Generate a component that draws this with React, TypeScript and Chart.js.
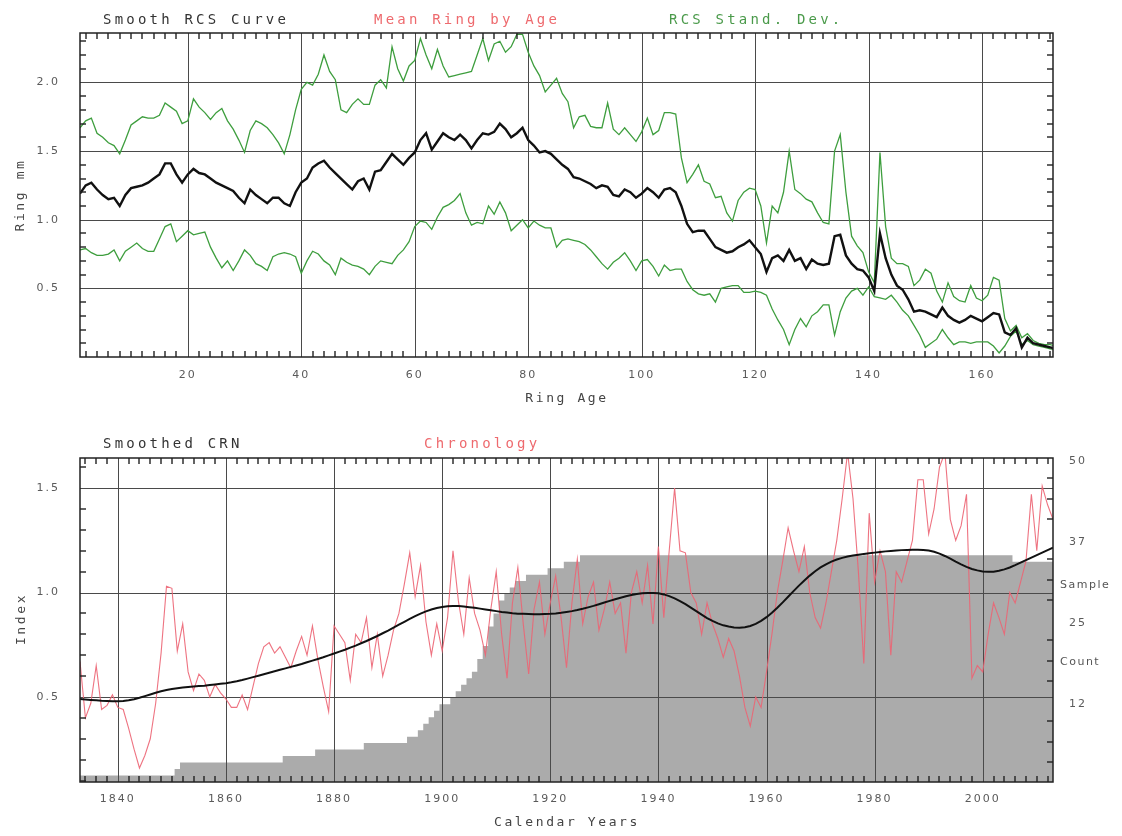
import React, { useEffect, useRef } from "react";
import { Chart, registerables } from "chart.js";

Chart.register(...registerables);

// ---------------- Top chart data (Ring Age 1..173) ----------------
const firstAge = 1;
const topXTicks = [20, 40, 60, 80, 100, 120, 140, 160];
const topYTicks = [0.5, 1.0, 1.5, 2.0];
const topMinorX = [2, 4, 6, 8, 10, 12, 14, 16, 18, 22, 24, 26, 28, 30, 32, 34, 36, 38, 42, 44, 46, 48, 50, 52, 54, 56, 58, 62, 64, 66, 68, 70, 72, 74, 76, 78, 82, 84, 86, 88, 90, 92, 94, 96, 98, 102, 104, 106, 108, 110, 112, 114, 116, 118, 122, 124, 126, 128, 130, 132, 134, 136, 138, 142, 144, 146, 148, 150, 152, 154, 156, 158, 162, 164, 166, 168, 170, 172];
const topMinorY = [0.1, 0.2, 0.3, 0.4, 0.6, 0.7, 0.8, 0.9, 1.1, 1.2, 1.3, 1.4, 1.6, 1.7, 1.8, 1.9, 2.1, 2.2, 2.3];

const meanRing = [
  1.19, 1.25, 1.27, 1.22, 1.18, 1.15, 1.16, 1.10, 1.18, 1.23,
  1.24, 1.25, 1.27, 1.30, 1.33, 1.41, 1.41, 1.33, 1.27, 1.33,
  1.37, 1.34, 1.33, 1.30, 1.27, 1.25, 1.23, 1.21, 1.16, 1.12,
  1.22, 1.18, 1.15, 1.12, 1.16, 1.16, 1.12, 1.10, 1.20, 1.27,
  1.30, 1.38, 1.41, 1.43, 1.38, 1.34, 1.30, 1.26, 1.22, 1.28,
  1.30, 1.22, 1.35, 1.36, 1.42, 1.48, 1.44, 1.40, 1.45, 1.49,
  1.58, 1.63, 1.51, 1.57, 1.63, 1.60, 1.58, 1.62, 1.58, 1.52,
  1.58, 1.63, 1.62, 1.64, 1.70, 1.66, 1.60, 1.63, 1.67, 1.58,
  1.54, 1.49, 1.50, 1.48, 1.44, 1.40, 1.37, 1.31, 1.30, 1.28,
  1.26, 1.23, 1.25, 1.24, 1.18, 1.17, 1.22, 1.20, 1.16, 1.19,
  1.23, 1.20, 1.16, 1.22, 1.23, 1.20, 1.10, 0.97, 0.91, 0.92,
  0.92, 0.86, 0.80, 0.78, 0.76, 0.77, 0.80, 0.82, 0.85, 0.80,
  0.75, 0.62, 0.72, 0.74, 0.70, 0.78, 0.70, 0.72, 0.64, 0.71,
  0.68, 0.67, 0.68, 0.88, 0.89, 0.74, 0.68, 0.64, 0.63, 0.58,
  0.48, 0.90, 0.72, 0.60, 0.52, 0.49, 0.42, 0.33, 0.34, 0.33,
  0.31, 0.29, 0.36, 0.30, 0.27, 0.25, 0.27, 0.30, 0.28, 0.26,
  0.29, 0.32, 0.31, 0.18, 0.16, 0.21, 0.07, 0.14, 0.10, 0.09,
  0.08, 0.07, 0.06,
];

const sdUpper = [
  1.67, 1.72, 1.74, 1.63, 1.60, 1.56, 1.54, 1.48, 1.58, 1.69,
  1.72, 1.75, 1.74, 1.74, 1.76, 1.85, 1.82, 1.79, 1.70, 1.72,
  1.88, 1.82, 1.78, 1.73, 1.78, 1.81, 1.72, 1.66, 1.58, 1.49,
  1.65, 1.72, 1.70, 1.67, 1.62, 1.56, 1.48, 1.62, 1.80, 1.95,
  2.00, 1.98, 2.06, 2.20, 2.08, 2.02, 1.80, 1.78, 1.84, 1.88,
  1.84, 1.84, 1.98, 2.02, 1.96, 2.26, 2.10, 2.01, 2.12, 2.16,
  2.32, 2.20, 2.10, 2.24, 2.12, 2.04, 2.05, 2.06, 2.07, 2.08,
  2.20, 2.32, 2.16, 2.28, 2.30, 2.22, 2.26, 2.35, 2.35, 2.22,
  2.12, 2.05, 1.93, 1.98, 2.03, 1.92, 1.86, 1.67, 1.75, 1.76,
  1.68, 1.67, 1.67, 1.85, 1.66, 1.62, 1.67, 1.62, 1.57, 1.64,
  1.74, 1.62, 1.65, 1.78, 1.78, 1.77, 1.45, 1.27, 1.33, 1.40,
  1.28, 1.26, 1.16, 1.17, 1.05, 0.99, 1.14, 1.20, 1.23, 1.22,
  1.10, 0.83, 1.10, 1.05, 1.20, 1.50, 1.22, 1.19, 1.15, 1.13,
  1.05, 0.98, 0.97, 1.50, 1.62, 1.20, 0.88, 0.81, 0.76, 0.62,
  0.54, 1.49, 0.95, 0.72, 0.68, 0.68, 0.66, 0.52, 0.56, 0.64,
  0.61, 0.48, 0.40, 0.54, 0.44, 0.41, 0.40, 0.52, 0.43, 0.41,
  0.45, 0.58, 0.56, 0.28, 0.19, 0.23, 0.14, 0.17, 0.12, 0.10,
  0.09, 0.09, 0.08,
];

const sdLower = [
  0.78, 0.79, 0.76, 0.74, 0.74, 0.75, 0.78, 0.70, 0.77, 0.80,
  0.83, 0.79, 0.77, 0.77, 0.86, 0.95, 0.97, 0.84, 0.88, 0.92,
  0.89, 0.90, 0.91, 0.80, 0.72, 0.65, 0.70, 0.63, 0.70, 0.78,
  0.74, 0.68, 0.66, 0.63, 0.73, 0.75, 0.76, 0.75, 0.73, 0.61,
  0.70, 0.77, 0.75, 0.70, 0.67, 0.60, 0.72, 0.69, 0.67, 0.66,
  0.64, 0.60, 0.66, 0.70, 0.69, 0.68, 0.74, 0.78, 0.84, 0.95,
  0.99, 0.98, 0.93, 1.02, 1.09, 1.11, 1.14, 1.19, 1.05, 0.96,
  0.98, 0.97, 1.10, 1.04, 1.13, 1.05, 0.92, 0.96, 1.00, 0.94,
  0.99, 0.96, 0.94, 0.94, 0.80, 0.85, 0.86, 0.85, 0.84, 0.82,
  0.78, 0.73, 0.68, 0.64, 0.69, 0.72, 0.76, 0.70, 0.63, 0.70,
  0.71, 0.66, 0.59, 0.67, 0.63, 0.64, 0.64, 0.55, 0.49, 0.46,
  0.45, 0.46, 0.40, 0.50, 0.51, 0.52, 0.52, 0.47, 0.47, 0.48,
  0.47, 0.45, 0.35, 0.27, 0.20, 0.09, 0.20, 0.28, 0.22, 0.30,
  0.33, 0.38, 0.38, 0.16, 0.33, 0.43, 0.48, 0.50, 0.45, 0.51,
  0.44, 0.43, 0.42, 0.45, 0.40, 0.34, 0.30, 0.23, 0.16, 0.07,
  0.10, 0.13, 0.20, 0.14, 0.09, 0.11, 0.11, 0.10, 0.11, 0.11,
  0.11, 0.08, 0.03, 0.08, 0.15, 0.19, 0.09, 0.12, 0.09, 0.08,
  0.07, 0.06, 0.05,
];

// ---------------- Bottom chart data (Calendar years 1833..2013) ----------------
const firstYear = 1833;
const botXTicks = [1840, 1860, 1880, 1900, 1920, 1940, 1960, 1980, 2000];
const botYTicks = [0.5, 1.0, 1.5];
const countTicks = [12.5, 25, 37.5, 50];
const botMinorX = [1834, 1836, 1838, 1842, 1844, 1846, 1848, 1850, 1852, 1854, 1856, 1858, 1862, 1864, 1866, 1868, 1870, 1872, 1874, 1876, 1878, 1882, 1884, 1886, 1888, 1890, 1892, 1894, 1896, 1898, 1902, 1904, 1906, 1908, 1910, 1912, 1914, 1916, 1918, 1922, 1924, 1926, 1928, 1930, 1932, 1934, 1936, 1938, 1942, 1944, 1946, 1948, 1950, 1952, 1954, 1956, 1958, 1962, 1964, 1966, 1968, 1970, 1972, 1974, 1976, 1978, 1982, 1984, 1986, 1988, 1990, 1992, 1994, 1996, 1998, 2002, 2004, 2006, 2008, 2010, 2012];
const botMinorY = [0.1, 0.2, 0.3, 0.4, 0.6, 0.7, 0.8, 0.9, 1.1, 1.2, 1.3, 1.4, 1.6];
const countMinor = [3.125, 6.25, 9.375, 15.625, 18.75, 21.875, 28.125, 31.25, 34.375, 40.625, 43.75, 46.875];

const chronology = [
  0.67, 0.40, 0.47, 0.65, 0.44, 0.46, 0.51, 0.45, 0.44, 0.35,
  0.25, 0.16, 0.22, 0.30, 0.47, 0.71, 1.03, 1.02, 0.72, 0.85,
  0.62, 0.53, 0.61, 0.58, 0.50, 0.56, 0.52, 0.49, 0.45, 0.45,
  0.51, 0.44, 0.55, 0.66, 0.74, 0.76, 0.71, 0.74, 0.69, 0.64,
  0.72, 0.79, 0.70, 0.84, 0.68, 0.55, 0.43, 0.84, 0.80, 0.76,
  0.58, 0.80, 0.76, 0.88, 0.64, 0.80, 0.60, 0.70, 0.82, 0.90,
  1.04, 1.19, 0.98, 1.13, 0.86, 0.70, 0.85, 0.72, 0.88, 1.20,
  0.96, 0.80, 1.07, 0.90, 0.82, 0.70, 0.92, 1.10, 0.80, 0.59,
  0.95, 1.12, 0.85, 0.61, 0.92, 1.05, 0.80, 0.95, 1.08, 0.88,
  0.64, 0.95, 1.16, 0.85, 0.98, 1.05, 0.82, 0.92, 1.05, 0.90,
  0.95, 0.71, 1.00, 1.10, 0.95, 1.13, 0.85, 1.22, 0.88, 1.20,
  1.50, 1.20, 1.19, 1.00, 0.95, 0.80, 0.95, 0.85, 0.78, 0.69,
  0.78, 0.72, 0.60, 0.45, 0.36, 0.50, 0.45, 0.62, 0.80, 1.00,
  1.15, 1.31, 1.20, 1.10, 1.22, 1.00, 0.88, 0.83, 0.95, 1.10,
  1.25, 1.45, 1.67, 1.45, 1.10, 0.66, 1.38, 1.05, 1.20, 1.10,
  0.70, 1.10, 1.05, 1.15, 1.25, 1.54, 1.54, 1.28, 1.40, 1.60,
  1.67, 1.35, 1.25, 1.32, 1.47, 0.59, 0.65, 0.62, 0.80, 0.95,
  0.88, 0.80, 1.00, 0.95, 1.05, 1.15, 1.47, 1.20, 1.51, 1.42,
  1.35,
];

const smoothedCrn = [
  0.490, 0.488, 0.486, 0.484, 0.482, 0.481, 0.480, 0.480, 0.481, 0.484,
  0.489, 0.496, 0.504, 0.512, 0.520, 0.527, 0.533, 0.538, 0.542, 0.545,
  0.548, 0.550, 0.552, 0.554, 0.557, 0.560, 0.563, 0.566, 0.570, 0.575,
  0.581, 0.588, 0.595, 0.602, 0.609, 0.616, 0.623, 0.630, 0.637, 0.644,
  0.651, 0.658, 0.666, 0.674, 0.682, 0.690, 0.699, 0.708, 0.717, 0.726,
  0.736, 0.746, 0.757, 0.768, 0.780, 0.792, 0.805, 0.818, 0.832, 0.846,
  0.860, 0.874, 0.887, 0.899, 0.910, 0.919, 0.926, 0.931, 0.934, 0.935,
  0.935, 0.933, 0.930, 0.927, 0.923, 0.919, 0.915, 0.911, 0.907, 0.904,
  0.901, 0.899, 0.898, 0.897, 0.896, 0.896, 0.897, 0.898, 0.900, 0.903,
  0.907, 0.911, 0.916, 0.922, 0.929, 0.936, 0.944, 0.952, 0.960, 0.968,
  0.975, 0.982, 0.988, 0.993, 0.996, 0.998, 0.998, 0.996, 0.991, 0.983,
  0.972, 0.959, 0.944, 0.928, 0.911, 0.894, 0.878, 0.864, 0.852, 0.843,
  0.837, 0.833, 0.832, 0.834, 0.840, 0.850, 0.864, 0.882, 0.903, 0.927,
  0.953, 0.980, 1.007, 1.033, 1.058, 1.081, 1.102, 1.120, 1.135, 1.148,
  1.158, 1.166, 1.172, 1.177, 1.181, 1.185, 1.188, 1.191, 1.194, 1.197,
  1.199, 1.201, 1.203, 1.204, 1.205, 1.205, 1.204, 1.201, 1.195, 1.186,
  1.175, 1.162, 1.148, 1.135, 1.123, 1.113, 1.106, 1.101, 1.099, 1.100,
  1.104, 1.111, 1.120, 1.131, 1.143, 1.155, 1.167, 1.179, 1.191, 1.203,
  1.215,
];

const sampleCount = [
  1, 1, 1, 1, 1, 1, 1, 1, 1, 1,
  1, 1, 1, 1, 1, 1, 1, 1, 2, 3,
  3, 3, 3, 3, 3, 3, 3, 3, 3, 3,
  3, 3, 3, 3, 3, 3, 3, 3, 4, 4,
  4, 4, 4, 4, 5, 5, 5, 5, 5, 5,
  5, 5, 5, 6, 6, 6, 6, 6, 6, 6,
  6, 7, 7, 8, 9, 10, 11, 12, 12, 13,
  14, 15, 16, 17, 19, 21, 24, 26, 28, 29,
  30, 31, 31, 32, 32, 32, 32, 33, 33, 33,
  34, 34, 34, 35, 35, 35, 35, 35, 35, 35,
  35, 35, 35, 35, 35, 35, 35, 35, 35, 35,
  35, 35, 35, 35, 35, 35, 35, 35, 35, 35,
  35, 35, 35, 35, 35, 35, 35, 35, 35, 35,
  35, 35, 35, 35, 35, 35, 35, 35, 35, 35,
  35, 35, 35, 35, 35, 35, 35, 35, 35, 35,
  35, 35, 35, 35, 35, 35, 35, 35, 35, 35,
  35, 35, 35, 35, 35, 35, 35, 35, 35, 35,
  35, 35, 35, 34, 34, 34, 34, 34, 34, 34,
  34,
];

// ---------------- styling ----------------
const TICK_FONT = { family: "DejaVu Sans", size: 11 };
const TICK_COLOR = "#5a5a5a";
const GRID_COLOR = "#4a4a4a";
const FRAME_COLOR = "#222";

function toPoints(start: number, values: number[]) {
  return values.map((v, i) => ({ x: start + i, y: v }));
}

type FrameCfg = {
  gridBefore: number;
  majorX: number[];
  majorY: number[];
  minorX: number[];
  minorY: number[];
  minorY2?: number[];
};

function makeFramePlugin(cfg: FrameCfg) {
  return {
    id: "frameLines",
    beforeDraw(chart: any) {
      try {
        (chart.ctx as any).letterSpacing = "2px";
      } catch (e) {}
    },
    beforeDatasetDraw(chart: any, args: any) {
      if (args.index !== cfg.gridBefore) return;
      const { ctx, chartArea: a, scales } = chart;
      ctx.save();
      ctx.fillStyle = GRID_COLOR;
      for (const v of cfg.majorX) {
        const px = Math.round(scales.x.getPixelForValue(v));
        ctx.fillRect(px, a.top, 1, a.bottom - a.top);
      }
      for (const v of cfg.majorY) {
        const py = Math.round(scales.y.getPixelForValue(v));
        ctx.fillRect(a.left, py, a.right - a.left, 1);
      }
      ctx.restore();
    },
    afterDraw(chart: any) {
      const ctx: CanvasRenderingContext2D = chart.ctx;
      const a = chart.chartArea;
      const xs = chart.scales.x;
      const ys = chart.scales.y;
      const L = 6;
      const W = 1.4;
      ctx.save();
      ctx.fillStyle = FRAME_COLOR;
      for (const v of cfg.minorX) {
        const px = Math.round(xs.getPixelForValue(v));
        ctx.fillRect(px - W / 2, a.bottom - L, W, L);
        ctx.fillRect(px - W / 2, a.top, W, L);
      }
      for (const v of cfg.minorY) {
        const py = Math.round(ys.getPixelForValue(v));
        ctx.fillRect(a.left, py - W / 2, L, W);
        if (!cfg.minorY2) ctx.fillRect(a.right - L, py - W / 2, L, W);
      }
      if (cfg.minorY2 && chart.scales.y2) {
        const y2 = chart.scales.y2;
        for (const v of cfg.minorY2) {
          const py = Math.round(y2.getPixelForValue(v));
          ctx.fillRect(a.right - L, py - W / 2, L, W);
        }
      }
      ctx.strokeStyle = FRAME_COLOR;
      ctx.lineWidth = 1.5;
      ctx.strokeRect(a.left, a.top, a.right - a.left, a.bottom - a.top);
      ctx.restore();
    },
  };
}

function TopChart() {
  const ref = useRef<HTMLCanvasElement>(null);
  useEffect(() => {
    const chart = new Chart(ref.current as HTMLCanvasElement, {
      type: "line",
      data: {
        datasets: [
          {
            data: toPoints(firstAge, meanRing),
            borderColor: "#111",
            borderWidth: 2.4,
            order: 1,
          },
          {
            data: toPoints(firstAge, sdUpper),
            borderColor: "#3e9e3e",
            borderWidth: 1.3,
            order: 2,
          },
          {
            data: toPoints(firstAge, sdLower),
            borderColor: "#3e9e3e",
            borderWidth: 1.3,
            order: 3,
          },
        ],
      },
      options: {
        responsive: false,
        animation: false,
        parsing: false as any,
        layout: { padding: { left: 0, top: 33, right: 69, bottom: 0 } },
        elements: { point: { radius: 0 }, line: { tension: 0 } },
        plugins: {
          legend: { display: false },
          tooltip: { enabled: false },
        },
        scales: {
          x: {
            type: "linear",
            min: 1,
            max: 172.5,
            grid: { display: false },
            border: { display: false },
            afterBuildTicks: (s: any) => {
              s.ticks = topXTicks.map((v) => ({ value: v }));
            },
            afterFit: (s: any) => {
              s.height = 420 - 357;
            },
            ticks: {
              padding: 4,
              font: TICK_FONT,
              color: TICK_COLOR,
              maxRotation: 0,
              autoSkip: false,
              callback: (v: any) => String(v),
            },
          },
          y: {
            type: "linear",
            position: "left",
            min: 0,
            max: 2.36,
            grid: { display: false },
            border: { display: false },
            afterBuildTicks: (s: any) => {
              s.ticks = topYTicks.map((v) => ({ value: v }));
            },
            afterFit: (s: any) => {
              s.width = 80;
            },
            ticks: {
              padding: 12,
              font: TICK_FONT,
              color: TICK_COLOR,
              callback: (v: any) => Number(v).toFixed(1),
            },
          },
        },
      },
      plugins: [
        makeFramePlugin({
          gridBefore: 2,
          majorX: topXTicks,
          majorY: topYTicks,
          minorX: topMinorX,
          minorY: topMinorY,
        }) as any,
      ],
    });
    return () => chart.destroy();
  }, []);
  return (
    <canvas
      ref={ref}
      width={1122}
      height={420}
      style={{ position: "absolute", left: 0, top: 0, width: 1122, height: 420 }}
    />
  );
}

function BottomChart() {
  const ref = useRef<HTMLCanvasElement>(null);
  useEffect(() => {
    const chart = new Chart(ref.current as HTMLCanvasElement, {
      type: "line",
      data: {
        datasets: [
          {
            data: toPoints(firstYear, smoothedCrn),
            borderColor: "#111",
            borderWidth: 2,
            order: 1,
            yAxisID: "y",
          },
          {
            data: toPoints(firstYear, chronology),
            borderColor: "rgba(236,100,115,0.9)",
            borderWidth: 1.1,
            order: 2,
            yAxisID: "y",
          },
          {
            data: toPoints(firstYear, sampleCount),
            borderWidth: 0,
            borderColor: "rgba(0,0,0,0)",
            backgroundColor: "#ababab",
            fill: "origin",
            stepped: "middle" as any,
            order: 3,
            yAxisID: "y2",
          },
        ],
      },
      options: {
        responsive: false,
        animation: false,
        parsing: false as any,
        layout: { padding: { left: 0, top: 38, right: 0, bottom: 0 } },
        elements: { point: { radius: 0 }, line: { tension: 0 } },
        plugins: {
          legend: { display: false },
          tooltip: { enabled: false },
        },
        scales: {
          x: {
            type: "linear",
            min: 1833,
            max: 2013,
            grid: { display: false },
            border: { display: false },
            afterBuildTicks: (s: any) => {
              s.ticks = botXTicks.map((v) => ({ value: v }));
            },
            afterFit: (s: any) => {
              s.height = 416 - 362;
            },
            ticks: {
              padding: 3,
              font: TICK_FONT,
              color: TICK_COLOR,
              maxRotation: 0,
              autoSkip: false,
              callback: (v: any) => String(v),
            },
          },
          y: {
            type: "linear",
            position: "left",
            min: 0.093,
            max: 1.644,
            grid: { display: false },
            border: { display: false },
            afterBuildTicks: (s: any) => {
              s.ticks = botYTicks.map((v) => ({ value: v }));
            },
            afterFit: (s: any) => {
              s.width = 80;
            },
            ticks: {
              padding: 12,
              font: TICK_FONT,
              color: TICK_COLOR,
              callback: (v: any) => Number(v).toFixed(1),
            },
          },
          y2: {
            type: "linear",
            position: "right",
            min: 0,
            max: 50,
            grid: { display: false },
            border: { display: false },
            afterBuildTicks: (s: any) => {
              s.ticks = countTicks.map((v) => ({ value: v }));
            },
            afterFit: (s: any) => {
              s.width = 1122 - 1053;
            },
            ticks: {
              padding: 8,
              labelOffset: 3.5,
              font: TICK_FONT,
              color: TICK_COLOR,
              callback: (v: any) => String(Math.floor(Number(v))),
            },
          },
        },
      },
      plugins: [
        makeFramePlugin({
          gridBefore: 1,
          majorX: botXTicks,
          majorY: botYTicks,
          minorX: botMinorX,
          minorY: botMinorY,
          minorY2: countMinor,
        }) as any,
      ],
    });
    return () => chart.destroy();
  }, []);
  return (
    <canvas
      ref={ref}
      width={1122}
      height={416}
      style={{ position: "absolute", left: 0, top: 420, width: 1122, height: 416 }}
    />
  );
}

const headFont: React.CSSProperties = {
  position: "absolute",
  fontFamily: "'DejaVu Sans Mono', monospace",
  fontSize: 14,
  letterSpacing: "3.2px",
  lineHeight: "18px",
  whiteSpace: "nowrap",
};

const axisFont: React.CSSProperties = {
  position: "absolute",
  fontFamily: "'DejaVu Sans Mono', monospace",
  fontSize: 13,
  letterSpacing: "2.6px",
  lineHeight: "16px",
  color: "#444",
  whiteSpace: "nowrap",
  textAlign: "center",
};

const sideFont: React.CSSProperties = {
  position: "absolute",
  fontFamily: "'DejaVu Sans', sans-serif",
  fontSize: 11,
  letterSpacing: "1.5px",
  lineHeight: "14px",
  color: "#555",
  whiteSpace: "nowrap",
};

export default function App() {
  return (
    <div
      style={{
        position: "absolute",
        left: 0,
        top: 0,
        width: 1122,
        height: 836,
        background: "#fff",
        overflow: "hidden",
      }}
    >
      <TopChart />
      <BottomChart />

      <div style={{ ...headFont, left: 103, top: 10, color: "#333" }}>Smooth RCS Curve</div>
      <div style={{ ...headFont, left: 374, top: 10, color: "#ee6a6e" }}>Mean Ring by Age</div>
      <div style={{ ...headFont, left: 669, top: 10, color: "#4a9a4a" }}>RCS Stand. Dev.</div>

      <div style={{ ...axisFont, left: 467, width: 200, top: 390 }}>Ring Age</div>
      <div
        style={{
          ...axisFont,
          left: 20 - 60,
          width: 120,
          top: 195 - 8,
          transform: "rotate(-90deg)",
        }}
      >
        Ring mm
      </div>

      <div style={{ ...headFont, left: 103, top: 434, color: "#333" }}>Smoothed CRN</div>
      <div style={{ ...headFont, left: 424, top: 434, color: "#ee6a6e" }}>Chronology</div>

      <div style={{ ...axisFont, left: 417, width: 300, top: 814 }}>Calendar Years</div>
      <div
        style={{
          ...axisFont,
          left: 21 - 60,
          width: 120,
          top: 619 - 8,
          transform: "rotate(-90deg)",
        }}
      >
        Index
      </div>

      <div style={{ ...sideFont, left: 1060, top: 578 }}>Sample</div>
      <div style={{ ...sideFont, left: 1060, top: 655 }}>Count</div>
    </div>
  );
}
